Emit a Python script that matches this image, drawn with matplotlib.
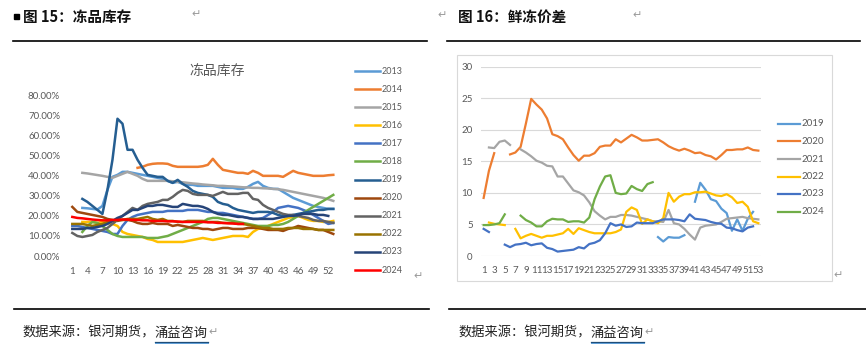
import numpy as np
import matplotlib
matplotlib.use("Agg")
import matplotlib.pyplot as plt
from matplotlib.lines import Line2D
from matplotlib.patches import Rectangle

W, H = 866, 357
CJK = ['Noto Sans CJK SC', 'DejaVu Sans']
NUM = ['Lato', 'DejaVu Sans']
N = None

# ---------------- Left chart data: 冻品库存 (%, week 1..53) ----------------
weeks = list(range(1, 54))
left_years = ['2013', '2014', '2015', '2016', '2017', '2018',
              '2019', '2020', '2021', '2022', '2023', '2024']
s2013 = [N, N, 24, 23.8, 23.5, 23.2, 25, 33, 39.5, 40.5, 42, 42, 41.5, 41, 40.5, 40, 39.5, 39, 38.5, 37.5,
         36.5, 37, 36, 35.5, 35.5, 35, 35, 35, 35, 34.5, 34, 34, 34, 33.5, 33.5, 34.5, 36, 37, 35, 34,
         33.5, 33.5, 32, 30.5, 29, 28, 27, 26, 25, 24.5, 24, 23.5, 23.5]
s2014 = [N, N, N, N, N, N, N, N, N, N, N, N, N, 44, 44.5, 45.5, 46, 46.2, 46.2, 46,
         45, 44.5, 44.5, 44.5, 44.5, 44.5, 44.8, 45.5, 48.5, 45.5, 43, 42.5, 42, 41.5, 41.5, 41, 42.5, 41.5, 40, 40,
         40, 40, 39.5, 41, 42.5, 41.5, 41, 40.5, 40, 40, 40, 40.3, 40.5]
s2015 = [N, N, 41.5, 41.2, 40.8, 40.4, 40, 39.5, 39, 40, 41, 42, 41, 40, 38.5, 37.5, 37.5, 37.5, 37.5, 37.5,
         37.3, 37, 36.8, 36.5, 36.2, 36, 35.7, 35.5, 35.3, 35, 35, 34.8, 34.7, 34.5, 34.3, 34.2, 34, 34, 33.8, 33.7,
         33.5, 33.3, 33, 32.5, 32, 31.5, 31, 30.5, 30, 29.5, 29, 28.3, 27.5]
s2016 = [N, N, 17, 17, 17, 16.5, 17, 16.5, 16, 15, 12, 11, 10.5, 10, 9.5, 8.5, 8, 7, 7, 7,
         7, 7, 7, 7.5, 8, 8.5, 9, 8.5, 8, 8.5, 9, 9.5, 10, 10, 10, 9.5, 12, 13.5, 14, 15,
         16, 17, 18, 19, 19.5, 20, 19, 18, 17.5, 17.5, 17, 17, 17.5]
s2017 = [15, 15, 14.5, 14, 13.5, 13, 12.5, 12, 11, 11, 15, 18, 19.5, 20.5, 21, 21.5, 22, 22, 22, 22.5,
         22.5, 22.5, 22.5, 23, 23, 23, 22.5, 22, 22, 21.5, 21.5, 21, 20.5, 20, 19.5, 19, 18.5, 18.5, 19, 20.5,
         22, 24, 24.5, 25, 24.5, 24, 23, 22, 20.5, 19, 17.5, 16, 16.5]
s2018 = [N, N, 12, 15, 17, 16.5, 15, 13, 11, 10, 9.5, 9.5, 9.5, 9.5, 9.5, 9, 9, 9, 9.5, 10,
         11, 12, 13, 14, 15, 16, 17, 18.5, 19, 19, 18.5, 18, 17.5, 17, 16.5, 16, 15.5, 15, 15, 15,
         15.5, 15.5, 16, 17, 18.5, 20, 21.5, 23, 24.5, 26, 27.5, 29, 30.5]
s2019 = [N, N, 28.5, 27, 25, 23, 21, 33, 48, 68.5, 66, 53, 53, 48, 44, 40.5, 40, 39.5, 39.5, 37.5,
         36.5, 38, 36, 34.5, 32.5, 31.5, 31, 30.5, 29.5, 27, 26, 25.5, 24, 23, 22.5, 22, 21.5, 22, 22, 22,
         21.5, 20.5, 20, 20, 20.5, 21, 21.5, 22, 22.5, 23, 23, 23.5, 23.5]
s2020 = [24.5, 22, 21.5, 21, 20.5, 20, 19.5, 18.5, 18, 17.5, 18, 18, 17.5, 16.5, 16, 16, 16.5, 16, 16, 16,
         15, 15.5, 15, 14.5, 14, 14, 13.5, 13.5, 13, 13.5, 14, 14, 13.5, 13.5, 13.5, 14, 14, 14, 13.5, 13,
         13, 13, 12.5, 13.5, 14, 15, 14.5, 14, 13.5, 13, 13, 12, 11]
s2021 = [11.5, 10, 9.5, 10, 10.5, 12, 13, 14, 16, 18, 20, 22, 24, 23, 25, 26, 26.5, 27, 28, 28,
         29.5, 31.5, 33, 32.5, 31, 30.5, 30.5, 30.5, 30, 31, 32, 31, 31, 31, 31.5, 31.5, 28.5, 28, 25.5, 24,
         23, 22, 21, 20.5, 20.5, 20, 19.5, 19, 18, 17.5, 17.5, 17, 16.5]
s2022 = [16, 16, 16, 15.5, 15, 15.5, 16, 17, 17.5, 18, 18, 18.5, 18.5, 18.5, 19, 19.5, 18.5, 18, 18.5, 17.5,
         17.5, 17, 17, 17.5, 17.5, 17.5, 17.5, 17, 17, 17, 16.5, 16.5, 16.5, 16, 16, 15.5, 15, 14.5, 14, 14,
         13.5, 13.5, 13.5, 14, 14, 14, 13.5, 13.5, 13.5, 13, 13, 13, 13]
s2023 = [13.5, 13.5, 13.5, 14, 14, 14.5, 15, 16, 17.5, 19, 20, 21.5, 23, 23, 24, 25, 25, 25.5, 25.5, 25,
         24.5, 24.5, 26, 25.5, 25, 25, 24.5, 23.5, 22, 21, 20.5, 20.5, 20, 19.5, 19.5, 19, 18.5, 18.5, 18.5, 18.5,
         18.5, 19, 19.5, 20, 20, 20.5, 21, 21, 21, 20.5, 20.5, 20, N]
s2024 = [19.5, 19, 18.8, 18.5, 18.2, 18, 17.8, 17.8, 18, 18, 18.2, 18.2, 18, 18, 17.8, 17.8, 17.5, 17.5, 17.5, 17.3,
         17.3, 17.2, 17, 17, 17, 17, 17, 16.8, 16.8, 16.5, 16.5, 16.3, 16.2, 16, 16, N, N, N, N, N,
         N, N, N, N, N, N, N, N, N, N, N, N, N]
left_series = [s2013, s2014, s2015, s2016, s2017, s2018, s2019, s2020, s2021, s2022, s2023, s2024]
left_colors = ['#5B9BD5', '#ED7D31', '#A5A5A5', '#FFC000', '#4472C4', '#70AD47',
               '#255E91', '#9E480E', '#636363', '#997300', '#264478', '#FF0000']
left_title = '冻品库存'
left_yticks = [0, 10, 20, 30, 40, 50, 60, 70, 80]
left_xticks = list(range(1, 54, 3))

# ---------------- Right chart data: 鲜冻价差 (week 1..53) ----------------
right_years = ['2019', '2020', '2021', '2022', '2023', '2024']
r2019 = [N] * 33 + [3.0, 2.3, 3.0, 2.9, 2.9, 3.3, N, 8.6, 11.6, 10.5, 9.0, 8.7, 7.5, 6.8, 4.0, 5.8, 4.0, 5.9, 7.0, N]
r2020 = [9.2, 13.5, 16.3, N, N, 16.1, 16.4, 17.3, 21.0, 24.9, 24.0, 23.2, 21.8, 19.3, 19.0, 18.5, 17.2, 16.0, 15.1, 15.9,
         15.9, 16.3, 17.3, 17.5, 17.5, 18.5, 18.0, 18.6, 19.2, 18.8, 18.3, 18.3, 18.4, 18.5, 18.0, 17.4, 17.0, 16.7, 17.0, 16.7,
         16.3, 16.4, 16.0, 15.8, 15.3, 16.0, 16.8, 16.8, 16.9, 16.9, 17.2, 16.8, 16.7]
r2021 = [N, 17.2, 17.1, 18.1, 18.3, 17.6, N, 16.9, 16.4, 15.8, 15.1, 14.8, 14.3, 14.2, 12.6, 12.6, 11.5, 10.4, 10.1, 9.6,
         8.5, 7.1, 6.4, 5.8, 6.2, 6.2, 6.5, 6.5, 6.4, 6.2, 6.0, 5.8, 5.5, 5.5, 5.4, 7.3, 5.2, 5.0, 4.3, 3.4,
         2.6, 4.5, 4.8, 4.9, 5.0, 5.4, 5.9, 6.0, 6.1, 6.2, 6.0, 5.9, 5.8]
r2022 = [N, 5.3, 5.1, 5.0, 4.9, N, 4.3, 2.8, 3.2, 3.5, 3.2, 2.9, 3.2, 3.2, 3.4, 3.6, 4.3, 3.5, 4.4, 4.1,
         3.8, 3.6, 3.6, 3.6, 3.6, 3.8, 4.2, 7.0, 7.7, 7.3, 5.1, 5.8, 5.5, 5.2, 6.0, 10.0, 8.6, 9.4, 9.8, 9.8,
         10.1, 10.1, 10.2, 9.9, 9.6, 9.5, 9.8, 9.3, 8.4, 8.6, 7.8, 5.5, 5.2]
r2023 = [4.3, 3.8, N, N, 1.8, 1.4, 1.8, 1.9, 2.1, 1.7, 1.9, 2.0, 1.3, 1.1, 0.7, 0.8, 0.9, 1.0, 1.4, 1.2,
         1.9, 2.1, 2.5, 3.6, 5.2, 4.8, 5.0, 4.6, 4.7, 5.3, 5.2, 5.2, 5.2, 5.5, 5.8, 5.8, 5.8, 5.7, 5.5, 6.6,
         5.9, 5.8, 5.7, 5.4, 5.2, 5.1, 4.5, 4.4, 4.1, 3.9, 4.5, 4.7, N]
r2024 = [4.9, 4.9, 5.0, 5.2, 6.6, N, N, 6.4, 5.7, 5.3, 4.7, 4.7, 5.5, 5.9, 5.8, 5.8, 5.4, 5.5, 5.5, 5.3,
         6.1, 9.0, 11.0, 12.6, 12.8, 10.0, 9.8, 9.9, 11.1, 10.6, 10.3, 11.4, 11.7] + [N] * 20
right_series = [r2019, r2020, r2021, r2022, r2023, r2024]
right_colors = ['#5B9BD5', '#ED7D31', '#A5A5A5', '#FFC000', '#4472C4', '#70AD47']
right_yticks = [0, 5, 10, 15, 20, 25, 30]
right_xticks = list(range(1, 54, 2))

header_left = '图 15：冻品库存'
header_right = '图 16：鲜冻价差'
source_a = '数据来源：银河期货，'
source_b = '涌益咨询'


def arr(v):
    return np.array([np.nan if x is None else x for x in v], dtype=float)


def rect(x0, y0, x1, y1):
    return [x0 / W, 1 - y1 / H, (x1 - x0) / W, (y1 - y0) / H]


def fx(x):
    return x / W


def fy(y):
    return 1 - y / H


fig = plt.figure(figsize=(W / 100, H / 100), dpi=100)
fig.patch.set_facecolor('white')

# ---------------- Left axes ----------------
axL = fig.add_axes(rect(69.8, 95.7, 335.8, 256))
for s, c in zip(left_series, left_colors):
    axL.plot(weeks, arr(s) / 100.0, color=c, lw=1.8, solid_joinstyle='round')
axL.set_xlim(0.5, 53.5)
axL.set_ylim(0, 0.8)
axL.set_yticks([v / 100 for v in left_yticks])
axL.set_yticklabels(['%.2f%%' % v for v in left_yticks], fontsize=7, color='#595959', family=NUM)
axL.set_xticks(left_xticks)
axL.set_xticklabels([str(v) for v in left_xticks], fontsize=7, color='#595959', family=NUM)
axL.tick_params(axis='both', length=0)
axL.tick_params(axis='x', pad=8)
axL.tick_params(axis='y', pad=7)
for sp in axL.spines.values():
    sp.set_visible(False)
axL.patch.set_alpha(0)
fig.text(fx(217), fy(71.7), left_title, ha='center', va='center', fontsize=10,
         color='#595959', family=CJK)

# left legend
for i, (yr, c) in enumerate(zip(left_years, left_colors)):
    yy = 71 + i * 18.1
    fig.add_artist(Line2D([fx(355), fx(380)], [fy(yy), fy(yy)], color=c, lw=1.8))
    fig.text(fx(382), fy(yy), yr, ha='left', va='center', fontsize=6.5, color='#595959', family=NUM)

# ---------------- Right axes ----------------
fig.add_artist(Rectangle((fx(457), fy(281)), (832 - 457) / W, (281 - 55) / H,
                         fill=False, edgecolor='#D9D9D9', lw=0.8, transform=fig.transFigure))
axR = fig.add_axes(rect(481, 66.7, 761, 256))
for yv in right_yticks:
    axR.axhline(yv, color='#D9D9D9', lw=0.8, zorder=0)
for s, c in zip(right_series, right_colors):
    axR.plot(weeks, arr(s), color=c, lw=1.6, solid_joinstyle='round')
axR.set_xlim(0.5, 53.5)
axR.set_ylim(0, 30)
axR.set_yticks(right_yticks)
axR.set_yticklabels([str(v) for v in right_yticks], fontsize=7, color='#595959', family=NUM)
axR.set_xticks(right_xticks)
axR.set_xticklabels([str(v) for v in right_xticks], fontsize=7, color='#595959', family=NUM)
axR.tick_params(axis='both', length=0)
axR.tick_params(axis='x', pad=7)
axR.tick_params(axis='y', pad=6)
for sp in axR.spines.values():
    sp.set_visible(False)
axR.patch.set_alpha(0)

for i, (yr, c) in enumerate(zip(right_years, right_colors)):
    yy = 124 + i * 17.5
    fig.add_artist(Line2D([fx(778), fx(800)], [fy(yy), fy(yy)], color=c, lw=1.6))
    fig.text(fx(801.5), fy(yy), yr, ha='left', va='center', fontsize=7, color='#595959', family=NUM)

# ---------------- Headers ----------------
fig.add_artist(Rectangle((fx(14), fy(18.5)), 4.5 / W, 4.5 / H, color='black', transform=fig.transFigure))
fig.text(fx(23), fy(17), header_left, ha='left', va='center', fontsize=10.5, weight='bold',
         color='#111111', family=CJK)
fig.text(fx(458), fy(17), header_right, ha='left', va='center', fontsize=10.5, weight='bold',
         color='#111111', family=CJK)
for x, y in [(196, 14), (442, 15), (637, 15), (418, 276), (838, 275)]:
    fig.text(fx(x), fy(y), '↵', ha='center', va='center', fontsize=8, color='#9A9A9A', family=['DejaVu Sans'])

fig.add_artist(Line2D([fx(13), fx(427)], [fy(41), fy(41)], color='black', lw=1.2))
fig.add_artist(Line2D([fx(447), fx(860)], [fy(41), fy(41)], color='black', lw=1.2))

# ---------------- Footers ----------------
fig.add_artist(Line2D([fx(14), fx(429)], [fy(309), fy(309)], color='black', lw=1.2))
fig.add_artist(Line2D([fx(449), fx(866)], [fy(309), fy(309)], color='black', lw=1.2))

fig.canvas.draw()
renderer = fig.canvas.get_renderer()
for x0 in [22, 458]:
    ta = fig.text(fx(x0), fy(333), source_a, ha='left', va='center', fontsize=9.5,
                  color='#222222', family=CJK)
    bb = ta.get_window_extent(renderer)
    xb = bb.x1
    tb = fig.text(xb / W, fy(333), source_b, ha='left', va='center', fontsize=9.5,
                  color='#222222', family=CJK)
    bb2 = tb.get_window_extent(renderer)
    fig.add_artist(Line2D([bb2.x0 / W, bb2.x1 / W], [fy(341.5), fy(341.5)], color='#1F4E79', lw=0.9))
    fig.add_artist(Line2D([bb2.x0 / W, bb2.x1 / W], [fy(343.3), fy(343.3)], color='#5B9BD5', lw=0.7))
    fig.text(bb2.x1 / W + 1 / W, fy(332), '↵', ha='left', va='center', fontsize=8,
             color='#9A9A9A', family=['DejaVu Sans'])

fig.savefig('out.png', dpi=100, facecolor='white')
